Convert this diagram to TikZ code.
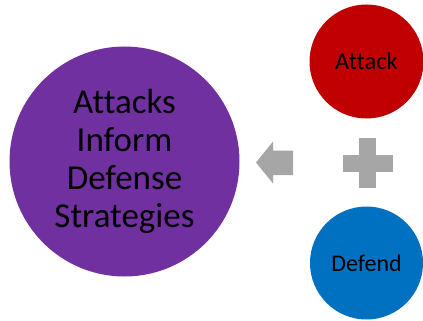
\documentclass[tikz,border=0pt]{standalone}
\usepackage{fontspec}
\setmainfont[Ligatures=NoCommon]{Carlito}
\definecolor{stratpurple}{HTML}{7030A0}
\definecolor{attackred}{HTML}{C00000}
\definecolor{defendblue}{HTML}{0070C0}
\definecolor{signgray}{HTML}{A6A6A6}
\tikzset{
  bubble/.style={circle,inner sep=0pt,text=black,align=center},
  sign/.style={fill=signgray,draw=none},
}
\begin{document}
\begin{tikzpicture}[x=1pt,y=-1pt]
  \useasboundingbox (0,0) rectangle (423,321);
  % the three circles
  \node[bubble,fill=stratpurple,minimum size=230pt,font=\fontsize{35}{38}\selectfont]
    (strategies) at (124.5,161.5) {Attacks\\Inform\\Defense\\Strategies};
  \node[bubble,fill=attackred,minimum size=114pt,font=\fontsize{24.5}{28}\selectfont]
    (attack) at (366.5,61.5) {Attack};
  \node[bubble,fill=defendblue,minimum size=113pt,font=\fontsize{24}{28}\selectfont]
    (defend) at (366.5,263) {Defend};
  % plus sign between attack and defend
  \coordinate (plus) at (367.5,163);
  \fill[sign] ([xshift=-8.5pt,yshift=-25pt]plus) rectangle ([xshift=8.5pt,yshift=25pt]plus);
  \fill[sign] ([xshift=-25pt,yshift=-8.5pt]plus) rectangle ([xshift=25pt,yshift=8.5pt]plus);
  % block arrow pointing to the big circle
  \coordinate (tip) at (256,162.5);
  \fill[sign] (tip) -- ++(17,-21) -- ++(0,9) -- ++(20,0) -- ++(0,24.5)
    -- ++(-20,0) -- ++(0,8.5) -- cycle;
\end{tikzpicture}
\end{document}
